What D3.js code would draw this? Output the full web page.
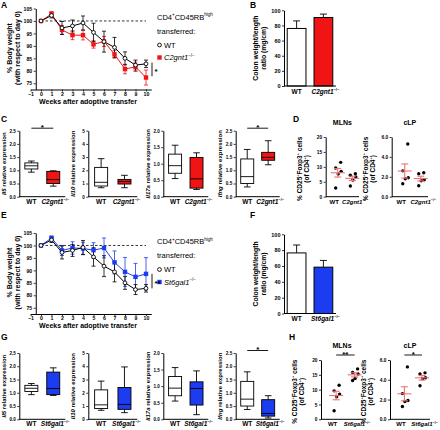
<!DOCTYPE html>
<html><head><meta charset="utf-8">
<script src="https://cdn.jsdelivr.net/npm/d3@7"></script>
<style>body{margin:0;background:#fff}svg{display:block}text{font-family:"Liberation Sans",Arial,sans-serif}</style>
</head><body><svg id="c" width="440" height="430"></svg>
<script>
// ---------------- DATA ----------------
const weeks = [0,1,2,3,4,5,6,7,8,9,10];
const weekTicks = [-1,0,1,2,3,4,5,6,7,8,9,10];
const weightTicks = [75,80,85,90,95,100,105];
const wtWeight    = [100,102.2,97.2,98,99.2,95.4,91.7,89.4,85,82.3,82.8];
const wtWeightErr = [0,1,2.6,2.4,2.8,3.7,4.2,4,2.6,2,1.5];
const c2Weight    = [100,102.8,96.4,94.3,94.3,90.6,91.8,86.6,80.7,81.6,77.3];
const c2WeightErr = [0,1,1.8,1.8,1.9,1.5,2,1.5,1.9,1.9,3];
const st6Weight    = [100,103,98,99,98.8,98.1,99,93.2,89.4,87.4,88.6];
const st6WeightErr = [0,0.8,2,2.5,2.5,3,4,4.6,5.8,5.4,6.5];

const groups = ["WT","KO"];
const colonTicks = [0,20,40,60,80,100];
const colonC2     = [76,90.5];
const colonC2Err  = [10,4.5];
const colonSt6    = [76.5,58.5];
const colonSt6Err = [10,8.5];

const genes = ["Il5","Il10","Il17a","Ifng"];
const geneMax = [2.5,5,2.0,2.5];
const geneTicks = [[0,0.5,1,1.5,2,2.5],[0,1,2,3,4,5],[0,0.5,1,1.5,2],[0,0.5,1,1.5,2,2.5]];
// box stats: [min, q1, median, q3, max]
const boxWT  = [[0.93,1.05,1.17,1.28,1.35],[0.68,0.81,1.09,2.22,2.88],[0.55,0.71,0.94,1.29,1.56],[0.37,0.5,0.76,1.43,1.79]];
const boxC2  = [[0.4,0.5,0.65,0.96,0.98],[0.68,0.96,1.16,1.31,1.62],[0.22,0.26,0.54,1.19,1.33],[1.21,1.38,1.49,1.68,2.12]];
const boxSt6 = [[0.9,0.93,1.16,1.78,1.94],[0.5,0.75,1.12,2.4,3.95],[0.14,0.43,0.93,1.13,1.46],[0.05,0.12,0.22,0.74,0.89]];
const sigC2  = ["*","","","*"];
const sigSt6 = ["","","","*"];

const tregMlnTicks = [0,5,10,15,20];
const tregLpTicks = [0,2,4,6];
const tregMlnWT  = [11.5,9.6,8.5,7.6,2.9];
const tregMlnC2  = [7.7,7.2,6.6,5.6,3.6];
const tregMlnSt6 = [17.0,15.8,15.3,13.8,13.1];
const tregLpWT   = [5.3,2.6,1.9,1.8,1.3];
const tregLpC2   = [2.4,2.3,1.7,1.6,1.1];
const tregLpSt6  = [4.7,4.6,4.2,4.1,3.4];

// ---------------- STYLE / LAYOUT ----------------
const RED = "#f01414", BLUE = "#1c3cf0", PINK = "#ee7272";
const FONT = "Liberation Sans, Arial, sans-serif";
const jitter = [3,-2,3.5,0.5,-2];
const svg = d3.select("#c");

function rich(parent, x, y, parts, o = {}) {
  const fs = o.fs || 7;
  const t = parent.append("text").attr("x", x).attr("y", y).attr("font-size", fs)
    .attr("font-weight", o.bold ? "bold" : "normal").attr("text-anchor", o.anchor || "start")
    .attr("fill", o.fill || "#000");
  if (o.rotate) t.attr("transform", `rotate(-90,${x},${y})`);
  let shift = 0;
  parts.forEach(p => {
    if (typeof p === "string") p = {t: p};
    const s = t.append("tspan").text(p.t);
    if (p.i) s.attr("font-style", "italic");
    const target = p.sup ? -fs * 0.42 : 0;
    if (target !== shift) { s.attr("dy", target - shift); shift = target; }
    if (p.sup) s.attr("font-size", fs * 0.6);
  });
  return t;
}
function styleAxis(a, fs) {
  a.attr("font-family", FONT).attr("font-size", fs).attr("font-weight", "bold");
  a.select(".domain").attr("stroke", "#000").attr("stroke-width", 1);
  a.selectAll(".tick line").attr("stroke", "#000").attr("stroke-width", 0.8);
  a.selectAll(".tick text").attr("fill", "#000");
}
function letter(t, x, y) {
  svg.append("text").attr("x", x).attr("y", y).attr("font-size", 8.5).attr("font-weight", "bold").text(t);
}
const koParts = {c2: [{t:"C2gnt1", i:true},{t:"−/−", sup:true}], st6: [{t:"St6gal1", i:true},{t:"−/−", sup:true}]};

// ---------------- WEIGHT PANELS ----------------
function weightPanel(dy, ko, koErr, color, koKey, sig, sigTop, sigBot) {
  const g = svg.append("g");
  const x = d3.scaleLinear().domain([-1, 10.5]).range([30.5, 151.25]);
  const y = d3.scaleLinear().domain([72.5, 105]).range([89.5 + dy, 8.5 + dy]);
  const xa = g.append("g").attr("transform", `translate(0,${89.5 + dy})`)
    .call(d3.axisBottom(x).tickValues(weekTicks).tickFormat(d => d < 0 ? "−" + (-d) : d).tickSize(2).tickSizeOuter(0).tickPadding(0.5));
  styleAxis(xa, 5.2);
  const ya = g.append("g").attr("transform", `translate(${x(-0.5)},0)`)
    .call(d3.axisLeft(y).tickValues(weightTicks).tickSize(2).tickSizeOuter(0).tickPadding(1.5));
  styleAxis(ya, 5.2);
  g.append("line").attr("x1", x(0)).attr("x2", x(10)).attr("y1", y(100)).attr("y2", y(100))
    .attr("stroke", "#000").attr("stroke-width", 0.8).attr("stroke-dasharray", "2.5,2");
  const series = [{v: ko, e: koErr, c: color, shape: "sq"}, {v: wtWeight, e: wtWeightErr, c: "#000", shape: "ci"}];
  series.forEach(s => {
    const eb = g.append("g").attr("stroke", s.c).attr("stroke-width", 0.8);
    weeks.forEach((w, i) => {
      if (!s.e[i]) return;
      eb.append("line").attr("x1", x(w)).attr("x2", x(w)).attr("y1", y(s.v[i] - s.e[i])).attr("y2", y(s.v[i] + s.e[i]));
      [s.v[i] - s.e[i], s.v[i] + s.e[i]].forEach(v => eb.append("line").attr("x1", x(w) - 2).attr("x2", x(w) + 2).attr("y1", y(v)).attr("y2", y(v)));
    });
    g.append("path").datum(s.v).attr("fill", "none").attr("stroke", s.c).attr("stroke-width", 1)
      .attr("d", d3.line().x((d, i) => x(weeks[i])).y(d => y(d)));
  });
  series.forEach(s => {
    if (s.shape === "sq") {
      g.selectAll(null).data(s.v).enter().append("rect").attr("x", (d, i) => x(weeks[i]) - 2.2).attr("y", d => y(d) - 2.2)
        .attr("width", 4.4).attr("height", 4.4).attr("fill", s.c);
    } else {
      g.selectAll(null).data(s.v).enter().append("circle").attr("cx", (d, i) => x(weeks[i])).attr("cy", d => y(d))
        .attr("r", 1.9).attr("fill", "#fff").attr("stroke", "#000").attr("stroke-width", 0.9);
    }
  });
  // titles
  rich(g, 88, 103.8 + dy, ["Weeks after adoptive transfer"], {fs: 7, bold: true, anchor: "middle"});
  rich(g, 12, 48 + dy, ["% Body weight"], {fs: 7, bold: true, anchor: "middle", rotate: true});
  rich(g, 20, 48 + dy, ["(with respect to day 0)"], {fs: 7, bold: true, anchor: "middle", rotate: true});
  // legend
  rich(g, 157, 19.5 + dy, ["CD4", {t:"+", sup:true}, "CD45RB", {t:"high", sup:true}], {fs: 7.5});
  rich(g, 157, 33.5 + dy, ["transferred:"], {fs: 7.5});
  g.append("circle").attr("cx", 159.5).attr("cy", 45 + dy).attr("r", 1.9).attr("fill", "#fff").attr("stroke", "#000").attr("stroke-width", 0.9);
  rich(g, 164, 47.5 + dy, ["WT"], {fs: 7.5});
  g.append("rect").attr("x", 157.3).attr("y", 55.3 + dy).attr("width", 4.4).attr("height", 4.4).attr("fill", color);
  rich(g, 164, 60 + dy, koParts[koKey], {fs: 7.5});
  // significance
  g.append("line").attr("x1", 152).attr("x2", 152).attr("y1", y(sigTop)).attr("y2", y(sigBot)).attr("stroke", "#000").attr("stroke-width", 0.9);
  rich(g, 154.5, (y(sigTop) + y(sigBot)) / 2 + 5, [sig], {fs: 8, bold: true});
}
weightPanel(0, c2Weight, c2WeightErr, RED, "c2", "*", 83.3, 77.8);
weightPanel(224.5, st6Weight, st6WeightErr, BLUE, "st6", "**", 88.6, 82.8);

// ---------------- COLON BARS ----------------
function colonPanel(yTop, yBot, vals, errs, color, koKey) {
  const g = svg.append("g");
  const x = d3.scaleBand().domain(groups).range([284, 336]).paddingInner(0.3).paddingOuter(0.12);
  const y = d3.scaleLinear().domain([0, 100]).range([yBot, yTop]);
  g.selectAll(null).data(vals).enter().append("line")
    .attr("x1", (d, i) => x(groups[i]) + x.bandwidth() / 2).attr("x2", (d, i) => x(groups[i]) + x.bandwidth() / 2)
    .attr("y1", d => y(d)).attr("y2", (d, i) => y(d + errs[i])).attr("stroke", "#000").attr("stroke-width", 0.9);
  g.selectAll(null).data(vals).enter().append("line")
    .attr("x1", (d, i) => x(groups[i]) + x.bandwidth() / 2 - 3.5).attr("x2", (d, i) => x(groups[i]) + x.bandwidth() / 2 + 3.5)
    .attr("y1", (d, i) => y(d + errs[i])).attr("y2", (d, i) => y(d + errs[i])).attr("stroke", "#000").attr("stroke-width", 0.9);
  g.selectAll(null).data(vals).enter().append("rect")
    .attr("x", (d, i) => x(groups[i])).attr("width", x.bandwidth())
    .attr("y", d => y(d)).attr("height", d => y(0) - y(d))
    .attr("fill", (d, i) => i === 0 ? "#fff" : color).attr("stroke", "#000").attr("stroke-width", 1);
  const ya = g.append("g").attr("transform", "translate(284,0)")
    .call(d3.axisLeft(y).tickValues(colonTicks).tickSize(2).tickSizeOuter(0).tickPadding(1.5));
  styleAxis(ya, 5.5);
  g.append("line").attr("x1", 284).attr("x2", 336).attr("y1", yBot).attr("y2", yBot).attr("stroke", "#000").attr("stroke-width", 1);
  const ly = yBot + 7.5;
  rich(g, x("WT") + x.bandwidth() / 2, ly, ["WT"], {fs: 6.5, bold: true, anchor: "middle"});
  rich(g, x("KO") + x.bandwidth() / 2 + 2, ly, koParts[koKey], {fs: 6.5, bold: true, anchor: "middle"});
  const my = (yTop + yBot) / 2;
  rich(g, 258, my, ["Colon weight/length"], {fs: 6.8, bold: true, anchor: "middle", rotate: true});
  rich(g, 266, my, ["ratio (mg/cm)"], {fs: 6.8, bold: true, anchor: "middle", rotate: true});
}
colonPanel(10.3, 86, colonC2, colonC2Err, RED, "c2");
colonPanel(234.3, 313.5, colonSt6, colonSt6Err, BLUE, "st6");

// ---------------- BOX PLOTS ----------------
const boxAxisX = [19.3, 88.3, 163.3, 235.7];
const boxAxisW = [46, 49, 45, 44];
function boxRow(yTop, yBot, koStats, color, koKey, sigs) {
  genes.forEach((gene, gi) => {
    const g = svg.append("g");
    const ax = boxAxisX[gi];
    const x = d3.scaleBand().domain(groups).range([ax, ax + boxAxisW[gi]]).paddingInner(0.1).paddingOuter(0.1);
    const y = d3.scaleLinear().domain([0, geneMax[gi]]).range([yBot, yTop]);
    const fmt = gi === 1 ? d3.format("d") : d3.format(".1f");
    const ya = g.append("g").attr("transform", `translate(${ax},0)`)
      .call(d3.axisLeft(y).tickValues(geneTicks[gi]).tickFormat(fmt).tickSize(2).tickSizeOuter(0).tickPadding(1.5));
    styleAxis(ya, 4.6);
    g.append("line").attr("x1", ax).attr("x2", ax + boxAxisW[gi]).attr("y1", yBot).attr("y2", yBot).attr("stroke", "#000").attr("stroke-width", 1);
    [boxWT[gi], koStats[gi]].forEach((s, k) => {
      const cx = x(groups[k]) + x.bandwidth() / 2, bw = 13;
      g.append("line").attr("x1", cx).attr("x2", cx).attr("y1", y(s[0])).attr("y2", y(s[4])).attr("stroke", "#000").attr("stroke-width", 0.9);
      [s[0], s[4]].forEach(v => g.append("line").attr("x1", cx - 3.3).attr("x2", cx + 3.3).attr("y1", y(v)).attr("y2", y(v)).attr("stroke", "#000").attr("stroke-width", 0.9));
      g.append("rect").attr("x", cx - bw / 2).attr("width", bw).attr("y", y(s[3])).attr("height", y(s[1]) - y(s[3]))
        .attr("fill", k === 0 ? "#fff" : color).attr("stroke", "#000").attr("stroke-width", 0.9);
      g.append("line").attr("x1", cx - bw / 2).attr("x2", cx + bw / 2).attr("y1", y(s[2])).attr("y2", y(s[2])).attr("stroke", "#000").attr("stroke-width", 0.9);
    });
    const ly = yBot + 6.8;
    rich(g, x("WT") + x.bandwidth() / 2, ly, ["WT"], {fs: 6.5, bold: true, anchor: "middle"});
    rich(g, x("KO") + x.bandwidth() / 2 + 2, ly, koParts[koKey], {fs: 6.5, bold: true, anchor: "middle"});
    rich(g, ax - 13.5, (yTop + yBot) / 2, [{t: gene, i: true}, " relative expression"], {fs: 6, bold: true, anchor: "middle", rotate: true});
    if (sigs[gi]) {
      const x1 = x("WT") + x.bandwidth() / 2, x2 = x("KO") + x.bandwidth() / 2, by = yTop - 2.5;
      g.append("line").attr("x1", x1).attr("x2", x2).attr("y1", by).attr("y2", by).attr("stroke", "#000").attr("stroke-width", 0.9);
      rich(g, (x1 + x2) / 2, by + 1.5, [sigs[gi]], {fs: 8, bold: true, anchor: "middle"});
    }
  });
}
boxRow(130.7, 196.7, boxC2, RED, "c2", sigC2);
boxRow(353, 419.3, boxSt6, BLUE, "st6", sigSt6);

// ---------------- TREG DOT PLOTS ----------------
function tregPlot(ax, ex, yTop, yBot, ticks, wt, ko, koKey, title, sig) {
  const g = svg.append("g");
  const L = ex - ax;
  const x = d3.scalePoint().domain(groups).range([ax + 0.36 * L, ax + 0.8 * L]);
  const y = d3.scaleLinear().domain([0, ticks[ticks.length - 1]]).range([yBot, yTop]);
  const ya = g.append("g").attr("transform", `translate(${ax},0)`)
    .call(d3.axisLeft(y).tickValues(ticks).tickSize(2).tickSizeOuter(0).tickPadding(1.5));
  styleAxis(ya, 4.8);
  g.append("line").attr("x1", ax).attr("x2", ex).attr("y1", yBot).attr("y2", yBot).attr("stroke", "#000").attr("stroke-width", 1);
  [wt, ko].forEach((d, k) => {
    const cx = x(groups[k]);
    const m = d3.mean(d), sem = d3.deviation(d) / Math.sqrt(d.length);
    g.selectAll(null).data(d).enter().append("circle").attr("cx", (v, i) => cx + jitter[i]).attr("cy", v => y(v))
      .attr("r", 1.7).attr("fill", "#000");
    const pg = g.append("g").attr("stroke", PINK).attr("stroke-width", 1.1);
    pg.append("line").attr("x1", cx - 7).attr("x2", cx + 7).attr("y1", y(m)).attr("y2", y(m));
    pg.append("line").attr("x1", cx).attr("x2", cx).attr("y1", y(m - sem)).attr("y2", y(m + sem));
    [m - sem, m + sem].forEach(v => pg.append("line").attr("x1", cx - 3.5).attr("x2", cx + 3.5).attr("y1", y(v)).attr("y2", y(v)));
  });
  const ly = yBot + 6.8;
  rich(g, x("WT") - 3.5, ly, ["WT"], {fs: 6, bold: true, anchor: "middle"});
  rich(g, x("KO") + 2.5, ly, koParts[koKey], {fs: 6, bold: true, anchor: "middle"});
  rich(g, (ax + ex) / 2, yTop - 12, [title], {fs: 7, bold: true, anchor: "middle"});
  const my = (yTop + yBot) / 2 + 2;
  rich(g, ax - 24, my, ["% CD25", {t:"+", sup:true}, "Foxp3", {t:"+", sup:true}, " cells"], {fs: 6.5, bold: true, anchor: "middle", rotate: true});
  rich(g, ax - 17, my, ["(of CD4", {t:"+", sup:true}, ")"], {fs: 6.5, bold: true, anchor: "middle", rotate: true});
  if (sig) {
    const by = yTop - 5;
    g.append("line").attr("x1", x("WT")).attr("x2", x("KO")).attr("y1", by).attr("y2", by).attr("stroke", "#000").attr("stroke-width", 0.9);
    rich(g, (x("WT") + x("KO")) / 2, by + 1.5, [sig], {fs: 8, bold: true, anchor: "middle"});
  }
}
tregPlot(325.7, 359, 137, 196.7, tregMlnTicks, tregMlnWT, tregMlnC2, "c2", "MLNs", "");
tregPlot(391.7, 428, 137, 196.7, tregLpTicks, tregLpWT, tregLpC2, "c2", "cLP", "");
tregPlot(321, 363, 360, 419.3, tregMlnTicks, tregMlnWT, tregMlnSt6, "st6", "MLNs", "**");
tregPlot(390, 430, 360, 419.3, tregLpTicks, tregLpWT, tregLpSt6, "st6", "cLP", "*");

// ---------------- PANEL LETTERS ----------------
letter("A", 1, 8); letter("B", 250, 7.5); letter("C", 1, 122); letter("D", 293, 122);
letter("E", 1, 218); letter("F", 250, 218); letter("G", 1, 340); letter("H", 289, 340);
</script></body></html>
